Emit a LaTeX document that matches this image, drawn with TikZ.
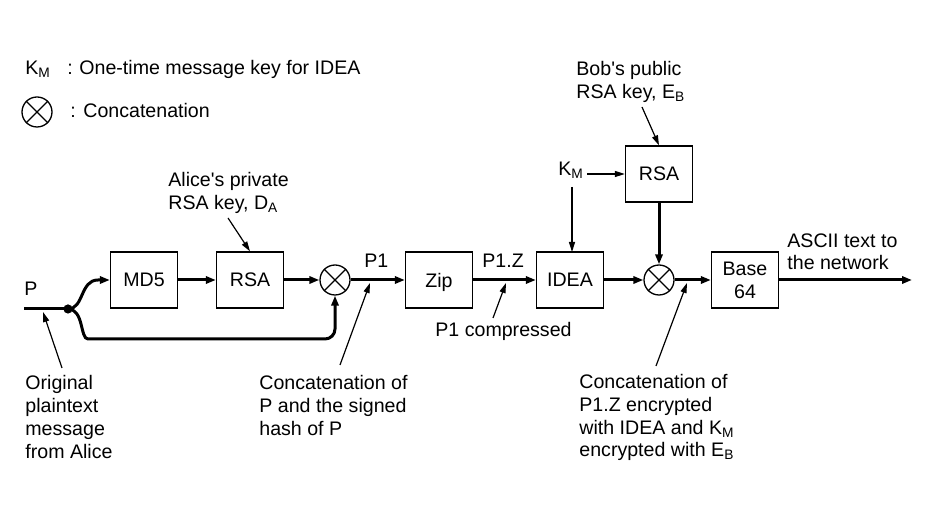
\documentclass[tikz,border=0pt]{standalone}
\usepackage{fontspec}
\setmainfont{Liberation Sans}
\usetikzlibrary{arrows.meta}
\begin{document}
\begin{tikzpicture}[x=0.5pt,y=-0.5pt,
  font=\fontsize{9.8}{11.4}\selectfont,
  box/.style={draw, line width=0.65pt, minimum width=33.5pt, minimum height=28pt, inner sep=0pt, align=center},
  cat/.style={draw, circle, line width=0.65pt, minimum size=15pt, inner sep=0pt},
  flow/.style={line width=1.5pt, -{Triangle[length=5pt,width=3.6pt]}},
  thinarrow/.style={line width=0.6pt, -{Triangle[length=5pt,width=3pt]}},
  lbl/.style={inner sep=0pt, align=left, anchor=base west},
  mlbl/.style={inner sep=0pt, align=left, anchor=north west},
  crossout/.style={line width=0.65pt}
]
\useasboundingbox (0,0) rectangle (926,528);

% legend
\node[lbl] (legkm) at (25,75) {K\textsubscript{M}};
\node[lbl] (legcolon1) at (67,75) {:};
\node[lbl] (legkmtext) at (79,75) {One-time message key for IDEA};
\node[cat] (legcat) at (37,112) {};
\draw[crossout] (legcat.45) -- (legcat.225) (legcat.135) -- (legcat.315);
\node[lbl] (legcolon2) at (70,118) {:};
\node[lbl] (legcattext) at (83,118) {Concatenation};

% boxes
\node[box] (md5) at (144,280) {MD5};
\node[box] (rsa1) at (250,280) {RSA};
\node[cat] (c1) at (335,280) {};
\draw[crossout] (c1.45) -- (c1.225) (c1.135) -- (c1.315);
\node[box, text depth=0pt] (zip) at (439,280) {Zip};
\node[box] (idea) at (570,280) {IDEA};
\node[cat] (c2) at (659,280) {};
\draw[crossout] (c2.45) -- (c2.225) (c2.135) -- (c2.315);
\node[box] (rsa2) at (659,174) {RSA};
\node[box] (b64) at (745,280) {Base\\64};

% labels
\node[lbl] (plbl) at (24,296) {P};
\node[lbl] (p1lbl) at (364,268) {P1};
\node[lbl] (p1zlbl) at (482,268) {P1.Z};
\node[lbl] (km) at (558,176) {K\textsubscript{M}};
\node[mlbl] (alice) at (168,172) {Alice\textquotesingle s private\\RSA key, D\textsubscript{A}};
\node[mlbl] (bob) at (576,61) {Bob\textquotesingle s public\\RSA key, E\textsubscript{B}};
\node[mlbl] (ascii) at (787,233) {ASCII text to\\the network};
\node[lbl] (p1comp) at (435,337) {P1 compressed};
\node[mlbl] (orig) at (25,375) {Original\\plaintext\\message\\from Alice};
\node[mlbl] (concat1) at (259,375) {Concatenation of\\P and the signed\\hash of P};
\node[mlbl] (concat2) at (579,374) {Concatenation of\\P1.Z encrypted\\with IDEA and K\textsubscript{M}\\encrypted with E\textsubscript{B}};

% input and split
\coordinate (pstart) at (24,309);
\coordinate (j) at (68,309);
\draw[line width=1.5pt] (pstart) -- (j);
\fill (j) circle (2.3pt);
\draw[flow] (j) .. controls (84,309) and (80,280) .. (98,280) -- (md5.west);
\draw[flow, rounded corners=5pt] (j) .. controls (84,309) and (80,339) .. (98,339) -- (335,339) -- (c1.south);

% main flow
\draw[flow] (md5.east) -- (rsa1.west);
\draw[flow] (rsa1.east) -- (c1.west);
\draw[flow] (c1.east) -- (zip.west);
\draw[flow] (zip.east) -- (idea.west);
\draw[flow] (idea.east) -- (c2.west);
\draw[flow] (rsa2.south) -- (c2.north);
\draw[flow] (c2.east) -- (b64.west);
\coordinate (out) at (912,280);
\draw[flow] (b64.east) -- (out);

% key arrows
\draw[thinarrow] (km.east |- rsa2.west) ++(3,0) -- (rsa2.west);
\draw[thinarrow] (572,187) -- (572,252);

% annotation arrows
\coordinate (alicetail) at (228,218);
\draw[thinarrow] (alicetail) -- (rsa1.north);
\coordinate (bobtail) at (642,107);
\draw[thinarrow] (bobtail) -- (rsa2.north);
\coordinate (origtail) at (62,368);
\coordinate (origtip) at (43,312);
\draw[thinarrow] (origtail) -- (origtip);
\coordinate (c1tail) at (340,365);
\coordinate (c1tip) at (370,283);
\draw[thinarrow] (c1tail) -- (c1tip);
\coordinate (comptail) at (493,318);
\coordinate (comptip) at (506,283);
\draw[thinarrow] (comptail) -- (comptip);
\coordinate (c2tail) at (656,366);
\coordinate (c2tip) at (687,283);
\draw[thinarrow] (c2tail) -- (c2tip);
\end{tikzpicture}
\end{document}
